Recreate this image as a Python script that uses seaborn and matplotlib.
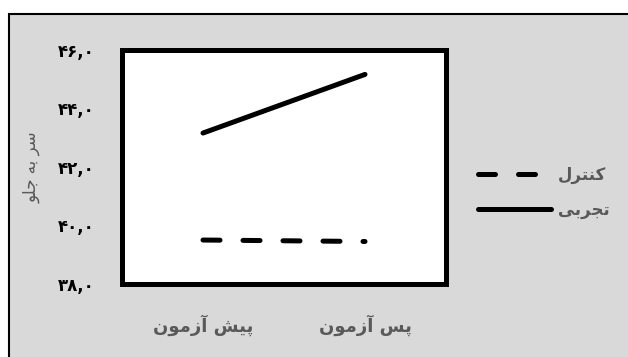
import pandas as pd
import seaborn as sns
import matplotlib.pyplot as plt
from matplotlib.patches import Rectangle
from matplotlib.lines import Line2D

phases = ['پیش آزمون', 'پس آزمون']
groups = ['کنترل', 'تجربی']
control = [39.5, 39.45]
experimental = [43.15, 45.15]
y_ticks = [38, 40, 42, 44, 46]
y_label = 'سر به جلو'

# matplotlib has no arabic shaping, so pick presentation forms by hand
FORMS = {
    'آ': ('\uFE81', '\uFE82', '\uFE81', '\uFE82'),
    'ب': ('\uFE8F', '\uFE90', '\uFE91', '\uFE92'),
    'پ': ('\uFB56', '\uFB57', '\uFB58', '\uFB59'),
    'ت': ('\uFE95', '\uFE96', '\uFE97', '\uFE98'),
    'ج': ('\uFE9D', '\uFE9E', '\uFE9F', '\uFEA0'),
    'ر': ('\uFEAD', '\uFEAE', '\uFEAD', '\uFEAE'),
    'ز': ('\uFEAF', '\uFEB0', '\uFEAF', '\uFEB0'),
    'س': ('\uFEB1', '\uFEB2', '\uFEB3', '\uFEB4'),
    'ش': ('\uFEB5', '\uFEB6', '\uFEB7', '\uFEB8'),
    'ل': ('\uFEDD', '\uFEDE', '\uFEDF', '\uFEE0'),
    'م': ('\uFEE1', '\uFEE2', '\uFEE3', '\uFEE4'),
    'ن': ('\uFEE5', '\uFEE6', '\uFEE7', '\uFEE8'),
    'ه': ('\uFEE9', '\uFEEA', '\uFEEB', '\uFEEC'),
    'و': ('\uFEED', '\uFEEE', '\uFEED', '\uFEEE'),
    'ک': ('\uFB8E', '\uFB8F', '\uFB90', '\uFB91'),
    'ی': ('\uFBFC', '\uFBFD', '\uFBFE', '\uFBFF'),
}
DUAL = set('بپتجسشلمنهکی')


def shape(text):
    out = []
    for i, ch in enumerate(text):
        if ch not in FORMS:
            out.append(ch)
            continue
        prev = text[i - 1] if i > 0 else ''
        nxt = text[i + 1] if i + 1 < len(text) else ''
        jp = prev in DUAL
        jn = ch in DUAL and nxt in FORMS
        iso, fin, ini, med = FORMS[ch]
        out.append(med if jp and jn else fin if jp else ini if jn else iso)
    return ''.join(out)[::-1]


def fa_num(v):
    return f'{v:.1f}'.replace('.', ',').translate(str.maketrans('0123456789', '۰۱۲۳۴۵۶۷۸۹'))


df = pd.DataFrame({
    'phase': phases * 2,
    'score': control + experimental,
    'group': [groups[0]] * 2 + [groups[1]] * 2,
})

plt.rcParams['font.family'] = ['DejaVu Sans']
fig = plt.figure(figsize=(6.28, 3.57), dpi=100)
fig.patch.set_facecolor('white')
bg = Rectangle((8.5 / 628, -0.2), 1.2, 1.2 - 14 / 357,
               transform=fig.transFigure, facecolor='#d9d9d9',
               edgecolor='black', lw=1.5, zorder=-5)
fig.add_artist(bg)
# thin grey shadow under / right of the plot frame
shadow = Rectangle((124 / 628, 1 - 287 / 357), 324 / 628, 234.5 / 357,
                   transform=fig.transFigure, facecolor='#7f7f7f',
                   edgecolor='none', zorder=-4)
fig.add_artist(shadow)

ax = fig.add_axes([122 / 628, 1 - 284 / 357, 324 / 628, 234.5 / 357])
ax.set_zorder(1)
ax.set_facecolor('white')

dash = (3.4, 4.6)
sns.lineplot(data=df, x='phase', y='score', style='group', style_order=groups,
             dashes={groups[0]: dash, groups[1]: ''}, color='black', lw=3.6,
             legend=False, ax=ax)
for ln in ax.lines:
    ln.set_solid_capstyle('round')
    ln.set_dash_capstyle('round')

ax.set_xlim(-0.5, 1.5)
ax.set_ylim(38, 46)
ax.set_yticks(y_ticks)
ax.set_yticklabels([fa_num(v) for v in y_ticks], fontsize=12, fontweight='bold', color='black')
ax.set_xticks(range(len(phases)))
ax.set_xticklabels([shape(p) for p in phases], fontsize=13, fontweight='bold', color='#595959')
ax.tick_params(axis='y', length=0, pad=20)
ax.tick_params(axis='x', length=0, pad=22)
ax.set_xlabel('')
ax.set_ylabel(shape(y_label), fontsize=12, color='#595959')
ax.yaxis.set_label_coords(-0.25, 0.5)
for s in ax.spines.values():
    s.set_color('black')
    s.set_linewidth(3.6)

handles = [Line2D([], [], color='black', lw=3.6, dashes=dash, dash_capstyle='round'),
           Line2D([], [], color='black', lw=3.6, solid_capstyle='round')]
fig.legend(handles, [shape(g) for g in groups], loc='center left',
           bbox_to_anchor=(478 / 628, 1 - 192.5 / 357), frameon=False,
           borderpad=0, borderaxespad=0, handlelength=4.4, handletextpad=0.4,
           labelspacing=1.0, prop={'size': 12, 'weight': 'bold'}, labelcolor='#595959')

fig.savefig('out.png', dpi=100)
